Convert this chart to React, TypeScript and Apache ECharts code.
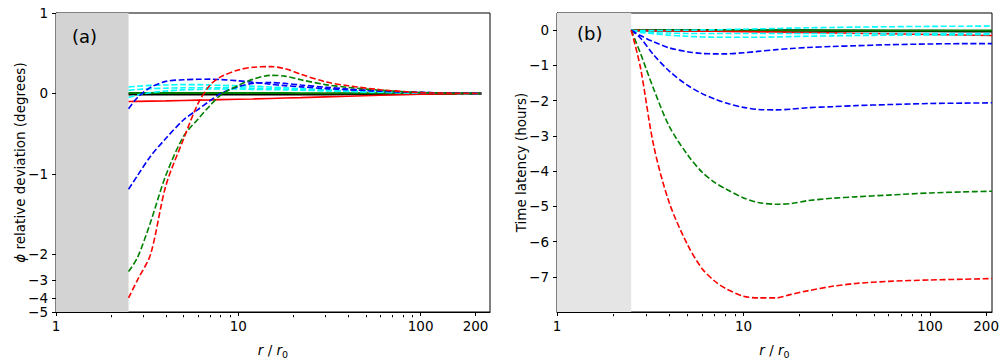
import React, { useEffect, useRef } from "react";
import * as echarts from "echarts";

// Radial distances r / r0 (common sampling for all curves)
const R = [2.5, 2.8, 3.3, 4, 5, 6, 7, 8, 10, 12, 15, 18, 22, 30, 40, 60, 100, 150, 215];

// Panel (a): phi relative deviation (degrees)
const aBlackSolid = [-0.01, -0.01, -0.01, -0.01, -0.01, -0.01, -0.01, -0.01, -0.01, -0.01, -0.01, -0.01, -0.01, -0.01, -0.008, -0.006, -0.004, -0.002, 0];
const aGreenSolid = [0.005, 0.005, 0.005, 0.005, 0.005, 0.005, 0.005, 0.005, 0.005, 0.005, 0.005, 0.005, 0.004, 0.004, 0.003, 0.002, 0.001, 0.0, 0];
const aRedSolid = [-0.1, -0.098, -0.095, -0.092, -0.087, -0.083, -0.08, -0.077, -0.072, -0.068, -0.062, -0.057, -0.052, -0.042, -0.034, -0.023, -0.01, -0.004, 0];
const aCyanA = [0.08, 0.09, 0.1, 0.105, 0.11, 0.11, 0.105, 0.1, 0.095, 0.09, 0.08, 0.07, 0.06, 0.045, 0.033, 0.02, 0.008, 0.003, 0];
const aCyanB = [0.04, 0.05, 0.06, 0.065, 0.07, 0.07, 0.07, 0.07, 0.07, 0.065, 0.06, 0.055, 0.048, 0.038, 0.028, 0.017, 0.007, 0.002, 0];
const aCyanC = [-0.05, -0.02, 0.01, 0.03, 0.045, 0.05, 0.055, 0.055, 0.055, 0.05, 0.048, 0.045, 0.04, 0.032, 0.025, 0.015, 0.006, 0.002, 0];
const aBlueA = [-0.19, -0.05, 0.075, 0.15, 0.17, 0.176, 0.178, 0.172, 0.157, 0.14, 0.115, 0.097, 0.082, 0.06, 0.045, 0.028, 0.012, 0.004, 0];
const aBlueB = [-1.19, -1.02, -0.78, -0.56, -0.33, -0.2, -0.09, 0.0, 0.085, 0.125, 0.135, 0.125, 0.105, 0.078, 0.055, 0.032, 0.013, 0.004, 0];
const aGreenDash = [-2.63, -2.1, -1.6, -1.02, -0.535, -0.32, -0.15, -0.02, 0.1, 0.175, 0.225, 0.215, 0.17, 0.11, 0.075, 0.04, 0.012, 0.004, 0];
const aRedDash = [-4.0, -3.0, -2.0, -1.15, -0.57, -0.13, 0.104, 0.206, 0.292, 0.325, 0.334, 0.309, 0.239, 0.145, 0.096, 0.047, 0.01, 0.003, 0];

// Panel (b): time latency (hours)
const bBlackSolid = [0, 0, 0, 0, 0, 0, 0, 0, -0.005, -0.005, -0.01, -0.01, -0.01, -0.015, -0.015, -0.02, -0.02, -0.025, -0.025];
const bGreenSolid = [0, 0, 0, 0, 0, 0, 0, 0, 0, 0, 0, -0.005, -0.005, -0.005, -0.005, -0.01, -0.01, -0.01, -0.01];
const bRedSolid = [0, -0.005, -0.01, -0.015, -0.02, -0.025, -0.03, -0.035, -0.04, -0.045, -0.05, -0.06, -0.065, -0.075, -0.085, -0.1, -0.12, -0.135, -0.15];
const bCyanA = [0, -0.01, -0.01, 0, 0, 0.01, 0.01, 0.02, 0.03, 0.04, 0.05, 0.06, 0.07, 0.08, 0.09, 0.1, 0.11, 0.115, 0.12];
const bCyanB = [0, -0.04, -0.07, -0.08, -0.09, -0.09, -0.09, -0.09, -0.09, -0.09, -0.09, -0.09, -0.09, -0.09, -0.09, -0.09, -0.09, -0.09, -0.09];
const bCyanC = [0, -0.06, -0.1, -0.14, -0.17, -0.19, -0.2, -0.2, -0.2, -0.2, -0.19, -0.18, -0.17, -0.16, -0.15, -0.14, -0.13, -0.13, -0.12];
const bBlueA = [0, -0.15, -0.33, -0.5, -0.61, -0.66, -0.67, -0.67, -0.64, -0.6, -0.55, -0.52, -0.49, -0.46, -0.44, -0.41, -0.39, -0.38, -0.38];
const bBlueB = [0, -0.22, -0.7, -1.16, -1.56, -1.8, -1.95, -2.06, -2.19, -2.25, -2.26, -2.24, -2.2, -2.17, -2.14, -2.11, -2.08, -2.07, -2.06];
const bGreenDash = [0, -0.65, -1.67, -2.73, -3.53, -4.03, -4.32, -4.5, -4.76, -4.89, -4.94, -4.92, -4.84, -4.77, -4.73, -4.68, -4.62, -4.59, -4.57];
const bRedDash = [0, -1.05, -3.28, -4.9, -6.08, -6.77, -7.12, -7.33, -7.55, -7.6, -7.6, -7.5, -7.4, -7.27, -7.19, -7.13, -7.09, -7.07, -7.05];

// Tick labels
const X_MAJOR = [1, 10, 100, 200];
const X_MINOR = [2, 3, 4, 5, 6, 7, 8, 9, 20, 30, 40, 50, 60, 70, 80, 90];
const A_YTICKS = [1, 0, -1, -2, -3, -4, -5];
const B_YTICKS = [0, -1, -2, -3, -4, -5, -6, -7];

// symlog transform (linear within +-2, logarithmic beyond)
const LINTHRESH = 2;
const LOGSCALE = 1.8;
const symlog = (v: number) => {
  const a = Math.abs(v);
  if (a <= LINTHRESH) return v;
  return Math.sign(v) * (LINTHRESH + LOGSCALE * Math.log10(a / LINTHRESH));
};

const FONT = "DejaVu Sans";
const fmtNum = (n: number) => (n < 0 ? "\u2212" + Math.abs(n) : String(n));

const GRID_A = { left: 56, top: 13, width: 434, height: 302 };
const GRID_B = { left: 557, top: 13, width: 435, height: 301 };

export default function App() {
  const ref = useRef<HTMLDivElement>(null);
  useEffect(() => {
    if (!ref.current) return;
    const chart = echarts.init(ref.current, undefined, { renderer: "svg" });

    const dash = [6, 2.6];
    const series: any[] = [];
    const mk = (data: number[], color: string, dashed: boolean, width: number, xi: number, yi: number, tf: (v: number) => number, z: number) => {
      series.push({
        type: "line",
        xAxisIndex: xi,
        yAxisIndex: yi,
        data: R.map((r, i) => [r, tf(data[i])]),
        symbol: "none",
        silent: true,
        smooth: dashed ? 0.3 : false,
        z,
        lineStyle: { color, width, type: dashed ? dash : "solid" },
      });
    };
    const id = (v: number) => v;

    // shaded regions (below the grid frame)
    series.push({
      type: "line", xAxisIndex: 0, yAxisIndex: 0, data: [[2.5, 0]], symbol: "none", silent: true, z: 0,
      lineStyle: { opacity: 0 },
      markArea: { silent: true, itemStyle: { color: "#d3d3d3", opacity: 1 }, data: [[{ xAxis: 1 }, { xAxis: 2.5 }]] },
    });
    series.push({
      type: "line", xAxisIndex: 2, yAxisIndex: 1, data: [[2.5, 0]], symbol: "none", silent: true, z: 0,
      lineStyle: { opacity: 0 },
      markArea: { silent: true, itemStyle: { color: "#e5e5e5", opacity: 1 }, data: [[{ xAxis: 1 }, { xAxis: 2.5 }]] },
    });

    // panel (a)
    mk(aBlackSolid, "#000000", false, 2.5, 0, 0, symlog, 3);
    mk(aGreenSolid, "#008000", false, 2, 0, 0, symlog, 3);
    mk(aRedSolid, "#ff0000", false, 1.6, 0, 0, symlog, 3);
    mk(aCyanA, "#00ffff", true, 1.6, 0, 0, symlog, 4);
    mk(aCyanB, "#00ffff", true, 1.6, 0, 0, symlog, 4);
    mk(aCyanC, "#00ffff", true, 1.6, 0, 0, symlog, 4);
    mk(aBlueA, "#0000ff", true, 1.6, 0, 0, symlog, 5);
    mk(aBlueB, "#0000ff", true, 1.6, 0, 0, symlog, 5);
    mk(aGreenDash, "#008000", true, 1.6, 0, 0, symlog, 6);
    mk(aRedDash, "#ff0000", true, 1.6, 0, 0, symlog, 6);

    // panel (b)
    mk(bBlackSolid, "#000000", false, 2.5, 2, 1, id, 3);
    mk(bGreenSolid, "#008000", false, 2, 2, 1, id, 3);
    mk(bRedSolid, "#ff0000", false, 1.6, 2, 1, id, 3);
    mk(bCyanA, "#00ffff", true, 1.6, 2, 1, id, 4);
    mk(bCyanB, "#00ffff", true, 1.6, 2, 1, id, 4);
    mk(bCyanC, "#00ffff", true, 1.6, 2, 1, id, 4);
    mk(bBlueA, "#0000ff", true, 1.6, 2, 1, id, 5);
    mk(bBlueB, "#0000ff", true, 1.6, 2, 1, id, 5);
    mk(bGreenDash, "#008000", true, 1.6, 2, 1, id, 6);
    mk(bRedDash, "#ff0000", true, 1.6, 2, 1, id, 6);

    const tickFont = { fontFamily: FONT, fontSize: 13.5, color: "#000" };
    const lineBlack = { show: true, onZero: false, lineStyle: { color: "#000", width: 1 } };

    const xAxesFor = (grid: number, max: number, height: number) => [
      {
        type: "log", logBase: 10, gridIndex: grid, min: 1, max, position: "bottom",
        axisLine: lineBlack,
        axisTick: { show: true, length: 4, customValues: X_MAJOR, lineStyle: { color: "#000" } },
        axisLabel: { ...tickFont, margin: 7, customValues: X_MAJOR, formatter: (v: number) => String(Math.round(v)) },
        splitLine: { show: false },
        name: "{i|r} / {i|r}{s|0}",
        nameLocation: "middle",
        nameGap: 29,
        nameMoveOverlap: false,
        nameTextStyle: {
          fontFamily: FONT, fontSize: 13.5, color: "#000",
          rich: {
            i: { fontFamily: FONT, fontSize: 13.5, fontStyle: "italic", color: "#000" },
            s: { fontFamily: FONT, fontSize: 9.5, color: "#000", padding: [8, 0, 0, 0] },
          },
        },
      },
      {
        // minor ticks: moved down onto the bottom frame line, ticks pointing outward
        type: "log", logBase: 10, gridIndex: grid, min: 1, max, position: "top", offset: -height,
        axisLine: { show: false, onZero: false },
        axisTick: { show: true, inside: true, length: 2.3, customValues: X_MINOR, lineStyle: { color: "#000" } },
        axisLabel: { show: false },
        splitLine: { show: false },
      },
    ];

    const aMin = symlog(-5);
    const aTickVals = A_YTICKS.map(symlog);

    const option: any = {
      animation: false,
      backgroundColor: "#ffffff",
      grid: [
        { ...GRID_A, show: true, z: 1, borderColor: "#000", borderWidth: 1, backgroundColor: "rgba(0,0,0,0)" },
        { ...GRID_B, show: true, z: 1, borderColor: "#000", borderWidth: 1, backgroundColor: "rgba(0,0,0,0)" },
      ],
      xAxis: [...xAxesFor(0, 240, GRID_A.height), ...xAxesFor(1, 215, GRID_B.height)],
      yAxis: [
        {
          type: "value", gridIndex: 0, min: aMin, max: 1, position: "left",
          axisLine: lineBlack,
          axisTick: { show: true, length: 4, customValues: aTickVals, lineStyle: { color: "#000" } },
          axisLabel: {
            ...tickFont, margin: 8, customValues: aTickVals,
            formatter: (v: number) => {
              let best = A_YTICKS[0];
              let d = Infinity;
              for (const t of A_YTICKS) {
                const dd = Math.abs(symlog(t) - v);
                if (dd < d) { d = dd; best = t; }
              }
              return fmtNum(best);
            },
          },
          splitLine: { show: false },
          name: "{i|\u03d5} relative deviation (degrees)",
          nameLocation: "middle",
          nameGap: 29,
          nameMoveOverlap: false,
          nameRotate: 90,
          nameTextStyle: {
            fontFamily: FONT, fontSize: 13.5, color: "#000",
            rich: { i: { fontFamily: FONT, fontSize: 13.5, fontStyle: "italic", color: "#000" } },
          },
        },
        {
          type: "value", gridIndex: 1, min: -8, max: 0.49, position: "left",
          axisLine: lineBlack,
          axisTick: { show: true, length: 4, customValues: B_YTICKS, lineStyle: { color: "#000" } },
          axisLabel: { ...tickFont, margin: 8, customValues: B_YTICKS, formatter: (v: number) => fmtNum(Math.round(v)) },
          splitLine: { show: false },
          name: "Time latency (hours)",
          nameLocation: "middle",
          nameGap: 29,
          nameMoveOverlap: false,
          nameRotate: 90,
          nameTextStyle: { fontFamily: FONT, fontSize: 13.5, color: "#000" },
        },
      ],
      graphic: [
        { type: "text", left: 72, top: 27, style: { text: "(a)", fontFamily: FONT, fontSize: 18, fill: "#000" }, z: 100 },
        { type: "text", left: 577, top: 24, style: { text: "(b)", fontFamily: FONT, fontSize: 18, fill: "#000" }, z: 100 },
      ],
      series,
    };

    chart.setOption(option);
    return () => chart.dispose();
  }, []);

  return (
    <div
      ref={ref}
      style={{ position: "fixed", left: 0, top: 0, width: 1008, height: 364, background: "#fff" }}
    />
  );
}
